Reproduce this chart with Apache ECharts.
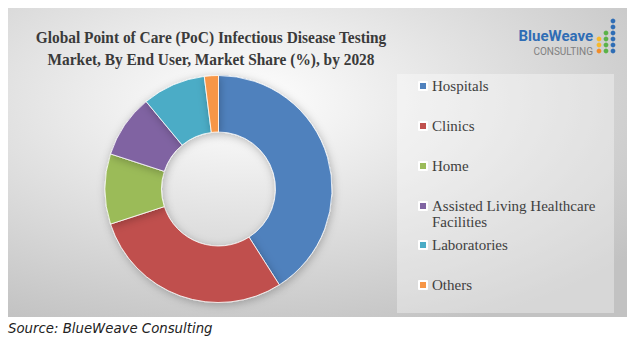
<!DOCTYPE html>
<html><head><meta charset="utf-8">
<script src="https://cdn.jsdelivr.net/npm/echarts@6/dist/echarts.min.js"></script>
<style>html,body{margin:0;padding:0;background:#fff;}#c{width:636px;height:342px;}</style>
</head><body><div id="c"></div>
<script>
const categories = ["Hospitals", "Clinics", "Home", "Assisted Living Healthcare Facilities", "Laboratories", "Others"];
const shares = [41, 29, 10, 9, 9, 2];
const colors = ["#4F81BD", "#C0504D", "#9BBB59", "#8064A2", "#4BACC6", "#F79646"];
const titleLines = ["Global Point of Care (PoC) Infectious Disease Testing", "Market, By End User, Market Share (%), by 2028"];
const sourceText = "Source: BlueWeave Consulting";

const chart = echarts.init(document.getElementById('c'), null, {renderer: 'svg'});

const legendTops = [78, 118, 158, 182, 237, 277];
const legends = categories.map((name, i) => ({
  data: [name], orient: 'vertical', left: 418, top: legendTops[i], padding: 0,
  icon: 'rect', itemWidth: 8, itemHeight: 8, selectedMode: false,
  formatter: n => n === "Assisted Living Healthcare Facilities" ? "\nAssisted Living Healthcare\nFacilities" : n,
  textStyle: {fontFamily: 'Liberation Serif', fontSize: 15, color: '#404040', lineHeight: 16}
}));

// logo dots
const dots = [];
const dotCols = [599, 606, 613];
const dotRows = [21, 27, 33, 39, 45, 51];
dotRows.forEach((y, r) => {
  dotCols.forEach((x, c) => {
    let col = null;
    if (c === 2) col = '#2F6DB5';
    else if (c === 1 && r >= 2) col = '#5BB248';
    else if (c === 0 && r >= 3) col = r === 5 ? '#F28C28' : '#F6B92B';
    if (col) dots.push({type: 'circle', shape: {cx: x, cy: y, r: 2.4}, style: {fill: col}, z: 10});
  });
});

chart.setOption({
  backgroundColor: '#ffffff',
  animation: false,
  color: colors,
  graphic: [
    {type: 'rect', shape: {x: 8, y: 8, width: 619, height: 309}, z: -10,
     style: {fill: {type: 'radial', x: 0.38, y: 0.3, r: 0.8, colorStops: [{offset: 0, color: '#ffffff'}, {offset: 1, color: '#c2c2c2'}]}}},
    {type: 'rect', shape: {x: 397, y: 74, width: 217, height: 239}, z: -9,
     style: {fill: 'rgba(255,255,255,0.35)'}},
    {type: 'text', x: 211, y: 37, scaleX: 0.88, z: 10, style: {text: titleLines[0], fontFamily: 'Liberation Serif', fontWeight: 'bold', fontSize: 17.5, fill: '#3a3a3a', align: 'center', verticalAlign: 'middle'}},
    {type: 'text', x: 211, y: 59, scaleX: 0.88, z: 10, style: {text: titleLines[1], fontFamily: 'Liberation Serif', fontWeight: 'bold', fontSize: 17.5, fill: '#3a3a3a', align: 'center', verticalAlign: 'middle'}},
    {type: 'text', x: 593, y: 36, z: 10, style: {text: 'BlueWeave', fontFamily: 'Roboto', fontWeight: 'bold', fontSize: 15, fill: '#2F6DB5', align: 'right', verticalAlign: 'middle'}},
    {type: 'text', x: 593, y: 51, z: 10, style: {text: 'CONSULTING', fontFamily: 'Roboto', fontSize: 10, fill: '#808080', align: 'right', verticalAlign: 'middle'}},
    ...dots,
    {type: 'text', x: 8, y: 328, z: 10, style: {text: sourceText, fontFamily: 'DejaVu Sans', fontStyle: 'italic', fontSize: 13.3, fill: '#222222', align: 'left', verticalAlign: 'middle'}}
  ],
  legend: legends,
  series: [{
    type: 'pie', center: [218.5, 189], radius: [57, 113.5], startAngle: 90, clockwise: true,
    label: {show: false}, labelLine: {show: false}, silent: true,
    itemStyle: {borderColor: '#ffffff', borderWidth: 0.8, shadowBlur: 8, shadowColor: 'rgba(0,0,0,0.25)', shadowOffsetX: 1, shadowOffsetY: 2},
    data: categories.map((c, i) => ({name: c, value: shares[i]}))
  }]
});
</script></body></html>
